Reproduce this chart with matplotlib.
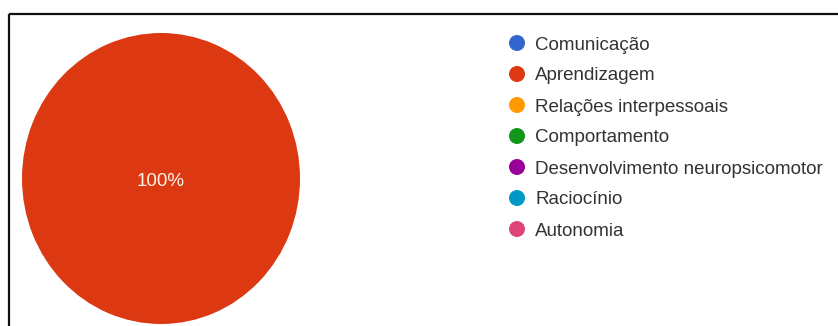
import matplotlib
matplotlib.use("Agg")
import matplotlib.pyplot as plt
from matplotlib.patches import Rectangle

plt.rcParams['font.family'] = ['Liberation Sans', 'DejaVu Sans']

categories = ["Comunicação", "Aprendizagem", "Relações interpessoais",
              "Comportamento", "Desenvolvimento neuropsicomotor",
              "Raciocínio", "Autonomia"]
values = [0, 100, 0, 0, 0, 0, 0]
colors = ["#3366CC", "#DC3912", "#FF9900", "#109618", "#990099",
          "#0099C6", "#DD4477"]

W, H = 838, 326
fig = plt.figure(figsize=(W / 100, H / 100), dpi=100)
fig.patch.set_facecolor("white")

# pie geometry in pixels
cx, cy, rx, ry = 161, 178.5, 139, 145.5
ax = fig.add_axes([(cx - rx) / W, (H - cy - ry) / H, 2 * rx / W, 2 * ry / H])

def pct_label(p):
    return f"{p:.0f}%" if p > 0 else ""

wedges, texts, autotexts = ax.pie(
    values, colors=colors, startangle=90, counterclock=False,
    autopct=pct_label, pctdistance=0.0,
    textprops=dict(color="#fdf3ea", fontsize=13.5),
    wedgeprops=dict(linewidth=0))
ax.set_aspect("auto")
ax.set_xlim(-1, 1)
ax.set_ylim(-1, 1)
ax.axis("off")
for t in autotexts:
    t.set_position((0, -0.02))

# legend drawn in a full-figure pixel axes
lax = fig.add_axes([0, 0, 1, 1])
lax.set_xlim(0, W)
lax.set_ylim(H, 0)
lax.axis("off")
y0, step = 43, 31
for i, (name, col) in enumerate(zip(categories, colors)):
    y = y0 + i * step
    lax.scatter([517], [y], s=(16 * 0.72) ** 2, color=col, edgecolors="none")
    lax.text(535, y, name, fontsize=13.5, color="#333333",
             va="center_baseline", ha="left")

# frame around the panel
lax.add_patch(Rectangle((8.5, 13.5), 900, 400, fill=False,
                        edgecolor="#111111", linewidth=1.6))

fig.savefig("out.png", dpi=100, facecolor="white")
